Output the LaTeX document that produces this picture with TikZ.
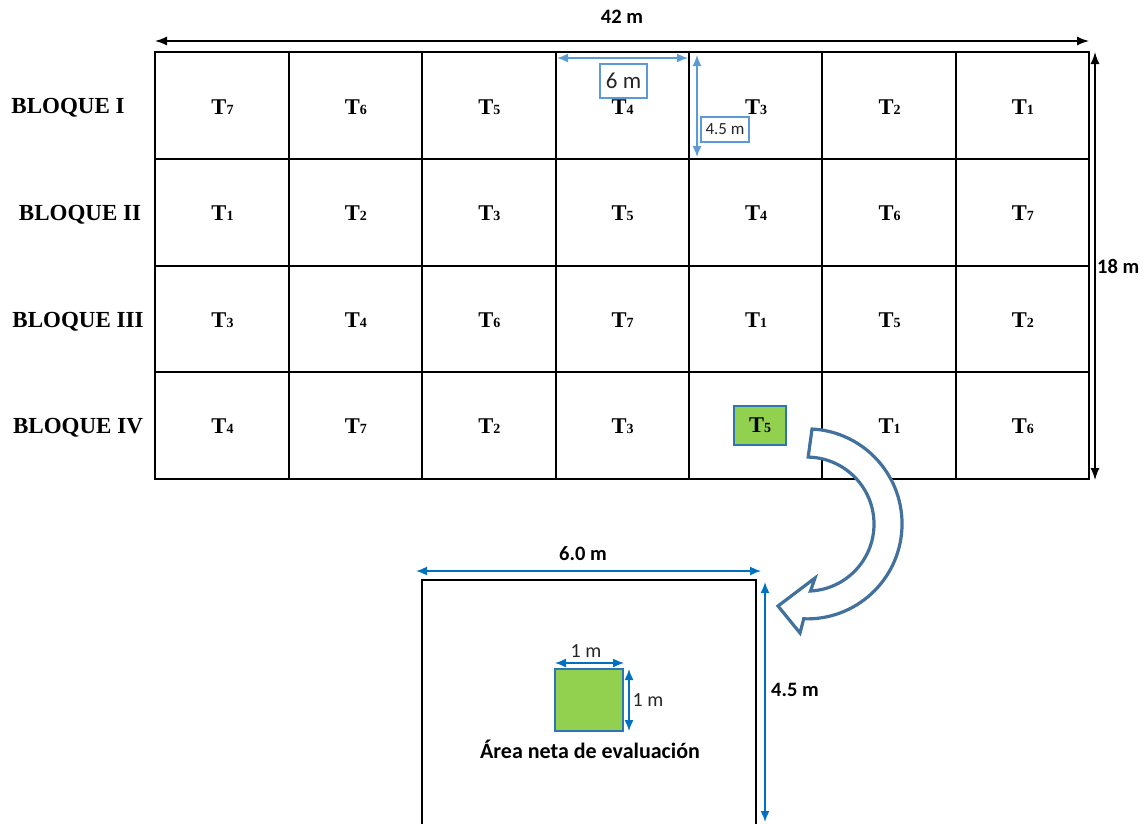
\documentclass[tikz,border=0pt]{standalone}
\usepackage{fontspec}
\setmainfont{Liberation Serif}
\newfontfamily\calib{Carlito}
\usetikzlibrary{arrows.meta}

% treatment label: bold T with a small digit on the baseline
\newcommand{\trt}[1]{T{\fontsize{14}{14}\selectfont #1}}

\begin{document}
\begin{tikzpicture}[x=1pt,y=-1pt,
  plotlab/.style={font=\fontsize{22.5}{22.5}\selectfont\bfseries, inner sep=0pt},
  blocklab/.style={font=\fontsize{23}{23}\selectfont\bfseries, inner sep=0pt},
  dimtext/.style={font=\calib\bfseries\fontsize{20.5}{20.5}\selectfont, inner sep=0pt},
  unittext/.style={font=\calib\fontsize{20}{20}\selectfont, text=black!85, inner sep=0pt},
  blackdim/.style={line width=1.4pt, {Latex[length=12pt,width=9pt]}-{Latex[length=12pt,width=9pt]}},
  bluedim/.style={line width=1.6pt, draw=dimblue, {Latex[length=11pt,width=9pt]}-{Latex[length=11pt,width=9pt]}},
  lightdim/.style={line width=1.6pt, draw=lightblue, {Latex[length=11pt,width=9pt]}-{Latex[length=11pt,width=9pt]}},
  tagbox/.style={draw=lightblue, line width=2.6pt, fill=white, text=black!85, font=\calib},
  netgreen/.style={fill=plotgreen, draw=boxblue, line width=1.3pt}
]
\definecolor{dimblue}{HTML}{0070C0}
\definecolor{lightblue}{HTML}{5B9BD5}
\definecolor{boxblue}{HTML}{2E75B6}
\definecolor{plotgreen}{HTML}{92D050}
\definecolor{arrowblue}{HTML}{41719C}

\useasboundingbox (0,0) rectangle (1145,823);

% ---- field layout: 7 plots x 4 blocks ----
\draw[line width=1.4pt] (289,52) -- (289,479) (422,52) -- (422,479)
  (556,52) -- (556,479) (689,52) -- (689,479) (822,52) -- (822,479)
  (956,52) -- (956,479);
\draw[line width=1.4pt] (155,159) -- (1089,159) (155,266) -- (1089,266)
  (155,372) -- (1089,372);
\draw[line width=2pt] (155,52) rectangle (1089,479);

% block names
\node[blocklab] (b1) at (68,108) {BLOQUE I};
\node[blocklab] (b2) at (80,215) {BLOQUE II};
\node[blocklab] (b3) at (78,322) {BLOQUE III};
\node[blocklab] (b4) at (78,428) {BLOQUE IV};

% treatments per block
\foreach \t [count=\c] in {7,6,5,4,3,2,1}
  \node[plotlab] (r1c\c) at ({222.5+133.4*(\c-1)},107) {\trt{\t}};
\foreach \t [count=\c] in {1,2,3,5,4,6,7}
  \node[plotlab] (r2c\c) at ({222.5+133.4*(\c-1)},213) {\trt{\t}};
\foreach \t [count=\c] in {3,4,6,7,1,5,2}
  \node[plotlab] (r3c\c) at ({222.5+133.4*(\c-1)},320) {\trt{\t}};
\foreach \t/\c in {4/1,7/2,2/3,3/4,1/6,6/7}
  \node[plotlab] (r4c\c) at ({222.5+133.4*(\c-1)},426) {\trt{\t}};

% highlighted plot
\node[netgreen, minimum width=52pt, minimum height=39pt, inner sep=0pt,
  font=\fontsize{22.5}{22.5}\selectfont\bfseries] (sel) at (760,425.5) {\trt{5}};

% overall dimensions
\coordinate (tl) at (155,41);
\coordinate (tr) at (1089,41);
\draw[blackdim] (tl) -- (tr);
\node[dimtext] (w42) at (622,17) {42 m};
\coordinate (rt) at (1095,52);
\coordinate (rb) at (1095,480);
\draw[blackdim] (rt) -- (rb);
\node[dimtext, anchor=west] (h18) at (1097,266) {18 m};

% single plot dimensions
\coordinate (pl) at (557,58);
\coordinate (pr) at (688,58);
\draw[lightdim] (pl) -- (pr);
\node[tagbox, minimum width=47pt, minimum height=34pt, inner sep=0pt,
  font=\calib\fontsize{23}{23}\selectfont] (six) at (623.5,81) {6 m};
\coordinate (pt) at (697,55);
\coordinate (pb) at (697,157);
\draw[lightdim] (pt) -- (pb);
\node[tagbox, minimum width=48pt, minimum height=25pt, inner sep=0pt,
  font=\calib\fontsize{17}{17}\selectfont] (fourfive) at (725,129.5) {4.5 m};

% curved block arrow towards the enlarged plot
\draw[arrowblue, line width=3.2pt, fill=white, line join=miter]
  (812,429) arc[start angle=-87, end angle=92, radius=95]
  -- (800,633) -- (778,606) -- (815,578) -- (810.5,591)
  arc[start angle=87, end angle=-89, radius=67] -- cycle;

% enlarged plot
\draw[line width=2pt] (422,830) -- (422,580) -- (756,580) -- (756,830);
\coordinate (el) at (416,571);
\coordinate (er) at (761,571);
\draw[bluedim] (el) -- (er);
\node[dimtext] (w6) at (583,554) {6.0 m};
\coordinate (et) at (765,582);
\coordinate (eb) at (765,822);
\draw[bluedim] (et) -- (eb);
\node[dimtext] (h45) at (795,690) {4.5 m};

% net evaluation area
\node[netgreen, minimum width=68pt, minimum height=62pt, inner sep=0pt] (net) at (589,700) {};
\coordinate (nl) at (555,663);
\coordinate (nr) at (624,663);
\draw[bluedim, line width=1.4pt] (nl) -- (nr);
\node[unittext] (one1) at (586,651) {1 m};
\coordinate (nt) at (629,669);
\coordinate (nb) at (629,731);
\draw[bluedim, line width=1.4pt] (nt) -- (nb);
\node[unittext] (one2) at (648,700) {1 m};
\node[dimtext, font=\calib\bfseries\fontsize{22}{22}\selectfont] (area) at (590,749) {Área neta de evaluación};
\end{tikzpicture}
\end{document}
